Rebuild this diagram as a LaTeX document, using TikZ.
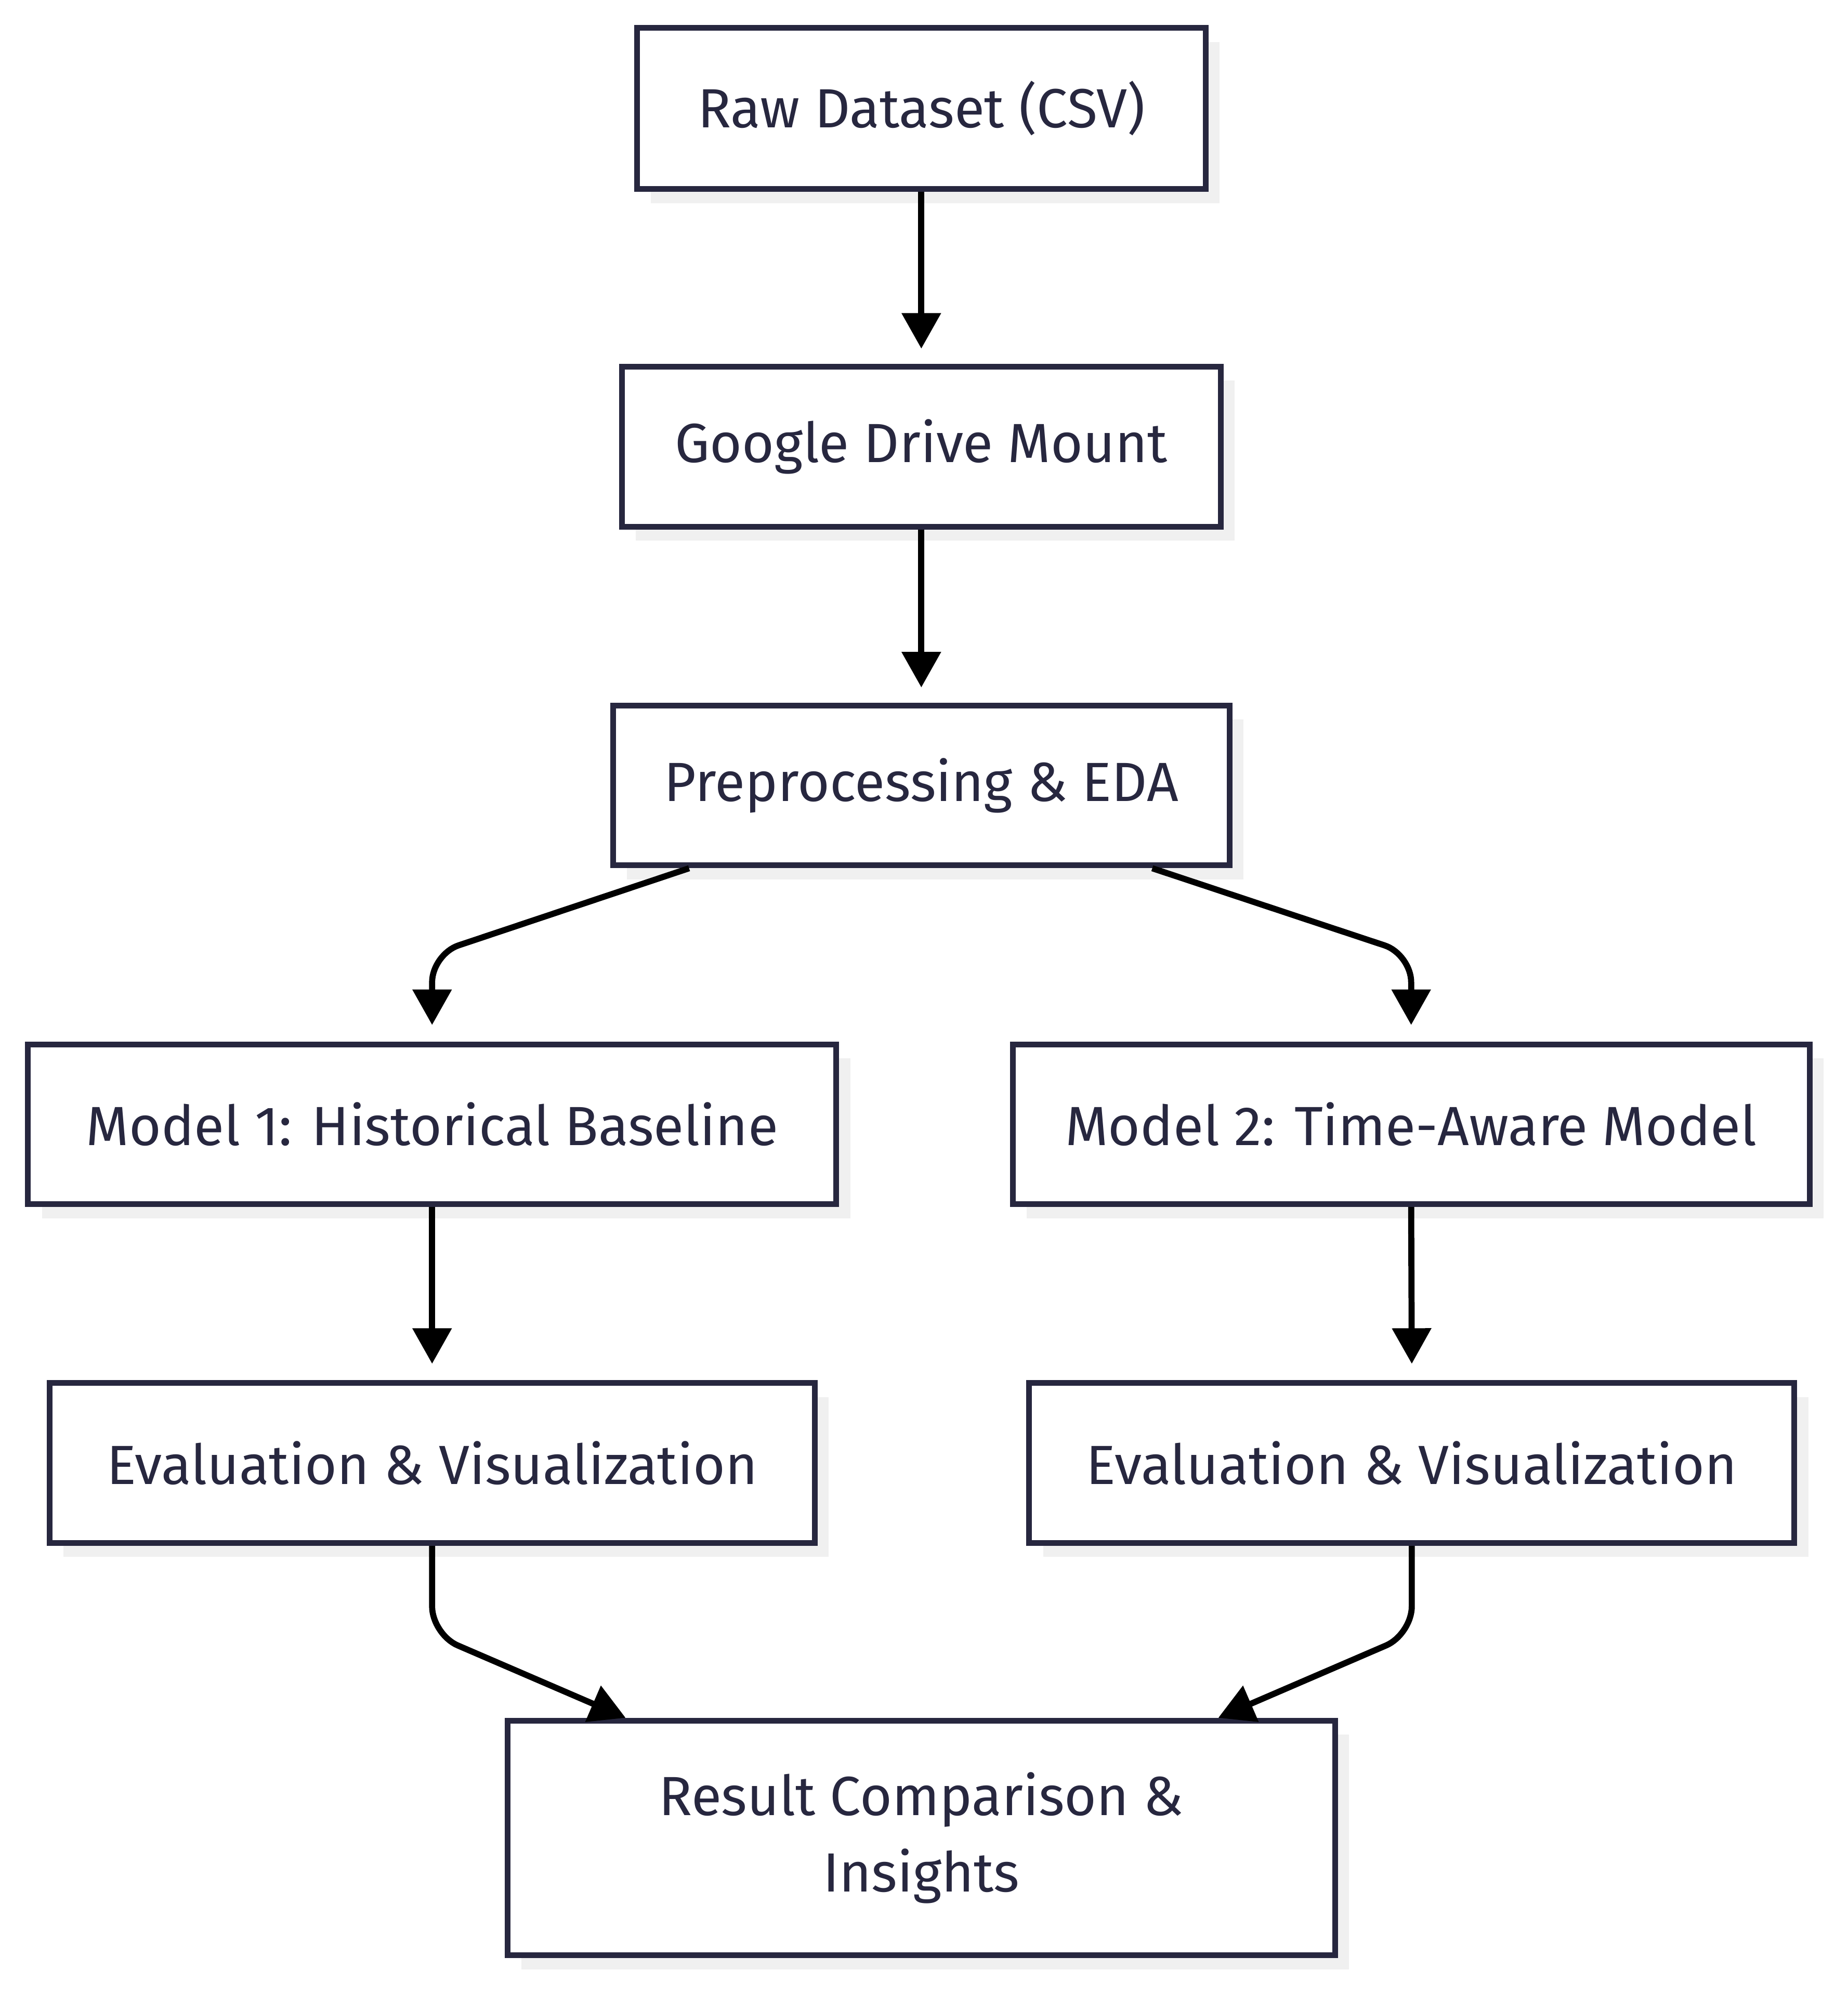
\documentclass[tikz,border=0pt]{standalone}
\usepackage{fontspec}
\setmainfont{Fira Sans}
\usetikzlibrary{arrows.meta, shadows}
\definecolor{boxline}{RGB}{39,39,63}
\definecolor{shadowgray}{RGB}{240,240,240}

\begin{document}
\begin{tikzpicture}[x=1pt, y=-1pt,
  stage/.style={draw=boxline, line width=4.5pt, fill=white, text=boxline,
    align=center, inner sep=0pt, font=\fontsize{43.5}{60}\selectfont,
    minimum height=126pt,
    drop shadow={shadow xshift=11pt, shadow yshift=-11pt, fill=shadowgray, opacity=1}},
  flow/.style={draw=black, line width=4.8pt, rounded corners=22pt,
    -{Triangle[length=28pt, width=30pt]}}]
\useasboundingbox (0,0) rectangle (1456,1573);
\node[stage, minimum width=448pt, minimum height=127pt] (raw) at (726,85.5) {Raw Dataset (CSV)};
\node[stage, minimum width=472pt] (drive) at (726,352) {Google Drive Mount};
\node[stage, minimum width=486pt] (prep) at (726,619) {Preprocessing \& EDA};
\node[stage, minimum width=637pt] (model1) at (340.5,886) {Model 1: Historical Baseline};
\node[stage, minimum width=628pt] (model2) at (1112,886) {Model 2: Time-Aware Model};
\node[stage, minimum width=603pt] (eval1) at (340.5,1153) {Evaluation \& Visualization};
\node[stage, minimum width=603pt] (eval2) at (1112.5,1153) {Evaluation \& Visualization};
\node[stage, minimum width=652pt, minimum height=185pt] (result) at (726,1448.5) {Result Comparison \&\\Insights};
\draw[flow] (raw.south) -- ([yshift=12pt]drive.north);
\draw[flow] (drive.south) -- ([yshift=12pt]prep.north);
\draw[flow] ([xshift=-183pt]prep.south) -- (340.5,752) -- ([yshift=13pt]model1.north);
\draw[flow] ([xshift=182pt]prep.south) -- (1112,752) -- ([yshift=13pt]model2.north);
\draw[flow] (model1.south) -- ([yshift=13pt]eval1.north);
\draw[flow] (model2.south) -- ([yshift=13pt]eval2.north);
\draw[flow] (eval1.south) -- (340.5,1288) -- ([xshift=-233pt]result.north);
\draw[flow] (eval2.south) -- (1112.5,1288) -- ([xshift=234pt]result.north);
\end{tikzpicture}
\end{document}
